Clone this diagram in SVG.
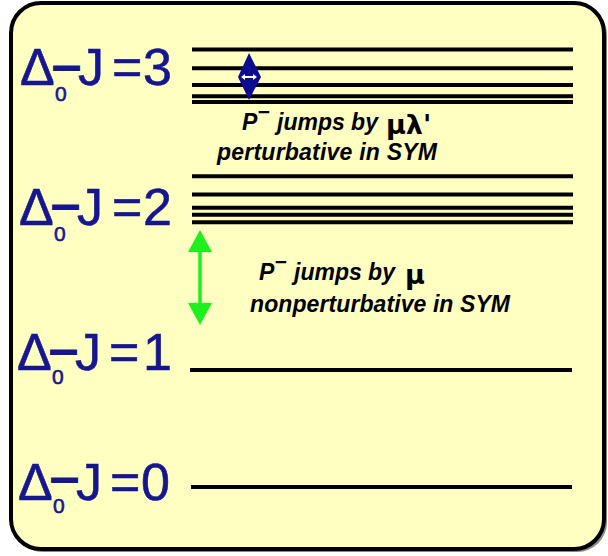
<svg xmlns="http://www.w3.org/2000/svg" width="608" height="556" viewBox="0 0 608 556">
<style>
.lab{font-family:"Liberation Sans",Arial,sans-serif;font-size:52px;fill:#16168f;stroke:#16168f;stroke-width:0.6}
.sub{font-size:21px}
.dash{font-size:23px;stroke-width:4}
.lv{stroke:#000;stroke-width:4;fill:none}
.note{font-family:"Liberation Sans",Arial,sans-serif;font-size:23px;font-weight:bold;font-style:italic;fill:#000}
.sym{font-family:"DejaVu Sans",sans-serif;font-size:27px;font-weight:bold;font-style:normal}
</style>
<rect x="13" y="5" width="594" height="547" rx="30" fill="#8a8a80"/>
<rect x="11" y="3" width="593" height="546" rx="30" fill="#ffffc2" stroke="#000" stroke-width="4"/>

<g id="level-3">
<text class="lab" y="85"><tspan x="20">Δ</tspan><tspan class="sub" x="55" y="101">0</tspan><tspan class="dash" x="55" y="74">—</tspan><tspan x="78" y="85">J</tspan><tspan x="112" y="85">=</tspan><tspan x="143" y="85">3</tspan></text>
<line class="lv" x1="192" y1="49.5" x2="573" y2="49.5"/>
<line class="lv" x1="192" y1="68.3" x2="573" y2="68.3"/>
<line class="lv" x1="192" y1="85" x2="573" y2="85"/>
<line class="lv" x1="192" y1="96.3" x2="573" y2="96.3"/>
<line class="lv" x1="192" y1="101.9" x2="573" y2="101.9"/>
</g>

<g id="level-2">
<text class="lab" y="225"><tspan x="19">Δ</tspan><tspan class="sub" x="54" y="241">0</tspan><tspan class="dash" x="54" y="213">—</tspan><tspan x="77" y="225">J</tspan><tspan x="112" y="225">=</tspan><tspan x="143" y="225">2</tspan></text>
<line class="lv" x1="192" y1="176.3" x2="573" y2="176.3"/>
<line class="lv" x1="192" y1="194.5" x2="573" y2="194.5"/>
<line class="lv" x1="192" y1="207.8" x2="573" y2="207.8"/>
<line class="lv" x1="192" y1="214.8" x2="573" y2="214.8"/>
<line class="lv" x1="192" y1="222.2" x2="573" y2="222.2"/>
</g>

<g id="level-1">
<text class="lab" y="370"><tspan x="17">Δ</tspan><tspan class="sub" x="52" y="384">0</tspan><tspan class="dash" x="52" y="358">—</tspan><tspan x="75" y="370">J</tspan><tspan x="109" y="370">=</tspan><tspan x="143" y="370">1</tspan></text>
<line class="lv" x1="190" y1="370" x2="572" y2="370"/>
</g>

<g id="level-0">
<text class="lab" y="500"><tspan x="18">Δ</tspan><tspan class="sub" x="53" y="513">0</tspan><tspan class="dash" x="53" y="486">—</tspan><tspan x="76" y="500">J</tspan><tspan x="110" y="500">=</tspan><tspan x="141" y="500">0</tspan></text>
<line class="lv" x1="191" y1="487" x2="572" y2="487"/>
</g>

<g id="note-perturbative">
<text class="note" x="242" y="130">P<tspan font-size="21" dy="-11">−</tspan><tspan x="277" dy="11">jumps by</tspan><tspan class="sym" x="386" y="134">μλ'</tspan></text>
<text class="note" x="217" y="160" textLength="220" lengthAdjust="spacing">perturbative in SYM</text>
</g>

<g id="note-nonperturbative">
<text class="note" x="259" y="280">P<tspan font-size="21" dy="-11">−</tspan><tspan x="294" dy="11">jumps by</tspan><tspan class="sym" x="405" y="284">μ</tspan></text>
<text class="note" x="250" y="312" textLength="260" lengthAdjust="spacing">nonperturbative in SYM</text>
</g>

<g id="connectors">
<g id="arrow-small">
<polygon points="249,53 238,77 261,77" fill="#0c0c8e"/>
<polygon points="238,77 261,77 249,100" fill="#0c0c8e"/>
<polygon points="241,77 245,74 245,76 253,76 253,74 257,77 253,80 253,78 245,78 245,80" fill="#fff"/>
</g>
<g id="arrow-large">
<line x1="200" y1="248" x2="200" y2="306" stroke="#1ef01e" stroke-width="3.5"/>
<polygon points="200,230 188,252 212,252" fill="#1ef01e"/>
<polygon points="200,325 188,303 212,303" fill="#1ef01e"/>
</g>
</g>
</svg>
